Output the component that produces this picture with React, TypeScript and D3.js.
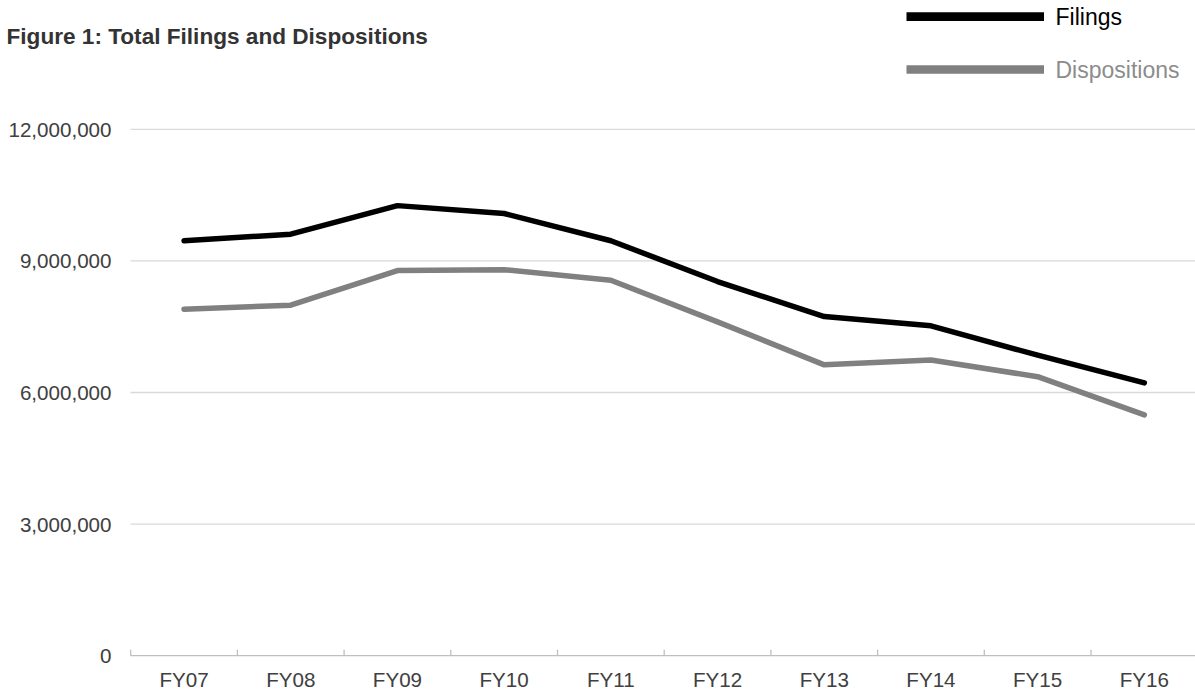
import React from "react";
import * as d3 from "d3";

const categories = ["FY07", "FY08", "FY09", "FY10", "FY11", "FY12", "FY13", "FY14", "FY15", "FY16"];
const filings = [9460000, 9610000, 10260000, 10080000, 9460000, 8530000, 7730000, 7520000, 6850000, 6220000];
const dispositions = [7900000, 7990000, 8780000, 8800000, 8560000, 7610000, 6630000, 6740000, 6360000, 5490000];
const yTicks = [0, 3000000, 6000000, 9000000, 12000000];
const seriesNames = ["Filings", "Dispositions"];

const W = 1195;
const H = 696;
const FONT = "Arial, 'Liberation Sans', sans-serif";

export default function App() {
  const x = d3.scaleBand<string>().domain(categories).range([130.7, 1197.7]).padding(0);
  const y = d3.scaleLinear().domain([0, 12000000]).range([655.7, 129.3]);
  const cx = (c: string) => (x(c) as number) + x.bandwidth() / 2;
  const fmt = d3.format(",");

  const line = d3
    .line<number>()
    .x((_, i) => cx(categories[i]))
    .y((d) => y(d));

  const series = [
    { name: seriesNames[0], values: filings, color: "#000000", text: "#000000" },
    { name: seriesNames[1], values: dispositions, color: "#808080", text: "#8c8c8c" },
  ];

  const boundaries = categories.map((c) => x(c) as number);

  return (
    <div style={{ position: "absolute", left: 0, top: 0 }}>
      <svg width={W} height={H} style={{ display: "block", background: "#fff" }}>
        <rect x={0} y={0} width={W} height={H} fill="#fff" />
        <text x={6.5} y={43.5} fontFamily={FONT} fontSize={22.6} fontWeight="bold" fill="#333333">
          Figure 1: Total Filings and Dispositions
        </text>

        {yTicks.filter((t) => t > 0).map((t) => (
          <line key={t} x1={130.5} x2={W} y1={y(t)} y2={y(t)} stroke="#d9d9d9" strokeWidth={1.3} />
        ))}
        {yTicks.map((t) => (
          <text
            key={"l" + t}
            x={111.5}
            y={y(t)}
            dy="0.36em"
            textAnchor="end"
            fontFamily={FONT}
            fontSize={20.6}
            fill="#404040"
          >
            {fmt(t)}
          </text>
        ))}

        <line x1={130.5} x2={W} y1={y(0)} y2={y(0)} stroke="#bfbfbf" strokeWidth={1.3} />
        {boundaries.map((b, i) => (
          <line key={"t" + i} x1={b} x2={b} y1={y(0) - 6} y2={y(0)} stroke="#bfbfbf" strokeWidth={1.3} />
        ))}
        {categories.map((c) => (
          <text
            key={c}
            x={cx(c)}
            y={687.3}
            textAnchor="middle"
            fontFamily={FONT}
            fontSize={20.6}
            fill="#404040"
          >
            {c}
          </text>
        ))}

        {series.map((s) => (
          <path
            key={s.name}
            d={line(s.values) || ""}
            fill="none"
            stroke={s.color}
            strokeWidth={5.5}
            strokeLinejoin="round"
            strokeLinecap="round"
          />
        ))}

        {series.map((s, i) => (
          <g key={"lg" + s.name} transform={`translate(0, ${i * 52.8})`}>
            <line x1={906.5} x2={1044} y1={16.7} y2={16.7} stroke={s.color} strokeWidth={8.7} />
            <text x={1055.5} y={24.9} fontFamily={FONT} fontSize={23} fill={s.text}>
              {s.name}
            </text>
          </g>
        ))}
      </svg>
    </div>
  );
}
